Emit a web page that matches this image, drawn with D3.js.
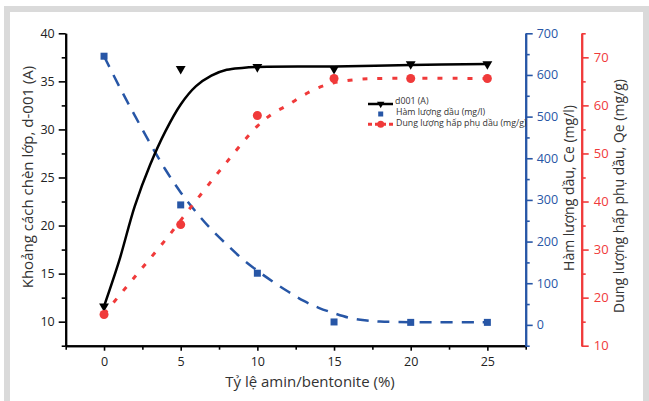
<!DOCTYPE html>
<html>
<head>
<meta charset="utf-8">
<script src="https://cdn.jsdelivr.net/npm/d3@7"></script>
<style>
  body { margin: 0; background: #fff; }
  svg text { font-family: "Open Sans", "Noto Sans", sans-serif; }
</style>
</head>
<body>
<div id="chart"></div>
<script>
var ratio = [0, 5, 10, 15, 20, 25];
var d001 = [11.6, 36.3, 36.5, 36.3, 36.8, 36.8];
var ceVals = [645, 288, 124, 7, 6, 6];
var qeVals = [16.5, 35.2, 57.9, 65.6, 65.6, 65.6];

// fitted curves as drawn in the picture
var d001FitX = [0, 1, 2, 3, 4, 5, 6, 7, 8, 9, 10, 15, 20, 25];
var d001Fit = [11.6, 16.4, 22.0, 26.3, 29.8, 32.6, 34.5, 35.6, 36.2, 36.4, 36.5, 36.55, 36.7, 36.8];
var ceFitX = [0, 1, 2, 3, 4, 5, 6, 7, 8, 9, 10, 11, 12, 13, 14, 15, 16, 17, 18, 20, 25];
var ceFit = [645, 572, 503, 436, 373, 318, 271, 229, 193, 159, 130, 104, 80, 58, 41, 28, 17, 11, 8, 6.5, 6];
var qeFitX = [0, 2, 4, 6, 8, 10, 11, 12, 13, 14, 15, 16.5, 18, 25];
var qeFit = [16.6, 24.3, 32, 40.2, 48.2, 55.7, 58.3, 60.1, 62.1, 63.7, 64.7, 65.4, 65.6, 65.6];

var xTicks = [0, 5, 10, 15, 20, 25];
var leftTicks = [10, 15, 20, 25, 30, 35, 40];
var blueTicks = [0, 100, 200, 300, 400, 500, 600, 700];
var redTicks = [10, 20, 30, 40, 50, 60, 70];
var legendLabels = ["d001 (A)", "Hàm lượng dầu (mg/l)", "Dung lượng hấp phụ dầu (mg/g)"];

var svgWidth = 649, svgHeight = 401;
var black = "#000", blue = "#2756a6", red = "#f03a3a", textCol = "#333";

var svg = d3.select("#chart").append("svg")
  .attr("width", svgWidth)
  .attr("height", svgHeight);

// grey frame
svg.append("rect")
  .attr("x", 7).attr("y", 9)
  .attr("width", 639).attr("height", 402)
  .attr("fill", "#fff")
  .attr("stroke", "#dadada")
  .attr("stroke-width", 6);

var plotTop = 33.3, plotBottom = 345.7, plotLeft = 65.7, plotRight = 525.7, redX = 581.7;

var x = d3.scaleLinear().domain([-2.5, 27.5]).range([plotLeft, plotRight]);
var yL = d3.scaleLinear().domain([7.5, 40]).range([plotBottom, plotTop]);
var yB = d3.scaleLinear().domain([-50, 700]).range([plotBottom, plotTop]);
var yR = d3.scaleLinear().domain([10, 75]).range([plotBottom, plotTop]);

function minorVals(start, stop, step) {
  return d3.range(start, stop + step / 2, step);
}

function styleAxis(g, color, size) {
  g.selectAll("path").attr("stroke", color).attr("stroke-width", 2);
  g.selectAll("line").attr("stroke", color).attr("stroke-width", 1.6);
  g.selectAll("text").attr("fill", color).attr("font-size", size || 12.5);
}

// x axis
var xMinor = svg.append("g").attr("transform", `translate(0,${plotBottom})`)
  .call(d3.axisBottom(x).tickValues(minorVals(-2.5, 27.5, 5)).tickSize(4).tickSizeOuter(0).tickFormat(""));
styleAxis(xMinor, black);
var xAxis = svg.append("g").attr("transform", `translate(0,${plotBottom})`)
  .call(d3.axisBottom(x).tickValues(xTicks).tickSize(5).tickSizeOuter(0).tickPadding(6));
styleAxis(xAxis, "#222");
xAxis.selectAll("line, path").attr("stroke", black);

// left axis
var lMinor = svg.append("g").attr("transform", `translate(${plotLeft},0)`)
  .call(d3.axisLeft(yL).tickValues(minorVals(7.5, 37.5, 5)).tickSize(4).tickSizeOuter(0).tickFormat(""));
styleAxis(lMinor, black);
var lAxis = svg.append("g").attr("transform", `translate(${plotLeft},0)`)
  .call(d3.axisLeft(yL).tickValues(leftTicks).tickSize(7).tickSizeOuter(0).tickPadding(4));
styleAxis(lAxis, "#222");
lAxis.selectAll("line, path").attr("stroke", black);

// blue axis
var bMinor = svg.append("g").attr("transform", `translate(${plotRight},0)`)
  .call(d3.axisRight(yB).tickValues(minorVals(-50, 650, 100)).tickSize(4).tickSizeOuter(0).tickFormat(""));
styleAxis(bMinor, blue);
var bAxis = svg.append("g").attr("transform", `translate(${plotRight},0)`)
  .call(d3.axisRight(yB).tickValues(blueTicks).tickSize(7).tickSizeOuter(0).tickPadding(4));
styleAxis(bAxis, blue);

// red axis
var rMinor = svg.append("g").attr("transform", `translate(${redX},0)`)
  .call(d3.axisRight(yR).tickValues(minorVals(15, 75, 10)).tickSize(4).tickSizeOuter(0).tickFormat(""));
styleAxis(rMinor, red);
var rAxis = svg.append("g").attr("transform", `translate(${redX},0)`)
  .call(d3.axisRight(yR).tickValues(redTicks).tickSize(7).tickSizeOuter(0).tickPadding(5));
styleAxis(rAxis, red, 13);

// axis titles
svg.append("text")
  .attr("transform", "translate(32.5,177) rotate(-90)")
  .attr("text-anchor", "middle")
  .attr("font-size", 15).attr("fill", textCol)
  .text("Khoảng cách chèn lớp, d-001 (A)");
svg.append("text")
  .attr("transform", "translate(574,188) rotate(-90)")
  .attr("text-anchor", "middle")
  .attr("font-size", 14).attr("fill", textCol)
  .text("Hàm lượng dầu, Ce (mg/l)");
svg.append("text")
  .attr("transform", "translate(624,196) rotate(-90)")
  .attr("text-anchor", "middle")
  .attr("font-size", 14).attr("fill", textCol)
  .text("Dung lượng hấp phụ dầu, Qe (mg/g)");
svg.append("text")
  .attr("x", 310).attr("y", 387)
  .attr("text-anchor", "middle")
  .attr("font-size", 15).attr("fill", textCol)
  .text("Tỷ lệ amin/bentonite (%)");

// fitted lines
var smooth = d3.curveCatmullRom.alpha(0.5);
var blueLine = d3.line().x((d, i) => x(ceFitX[i])).y(d => yB(d)).curve(smooth);
svg.append("path").datum(ceFit)
  .attr("d", blueLine)
  .attr("fill", "none").attr("stroke", blue)
  .attr("stroke-width", 2.5).attr("stroke-dasharray", "12,9");

var redLine = d3.line().x((d, i) => x(qeFitX[i])).y(d => yR(d)).curve(smooth);
svg.append("path").datum(qeFit)
  .attr("d", redLine)
  .attr("fill", "none").attr("stroke", red)
  .attr("stroke-width", 3).attr("stroke-dasharray", "5,10");

var blackLine = d3.line().x((d, i) => x(d001FitX[i])).y(d => yL(d)).curve(smooth);
svg.append("path").datum(d001Fit)
  .attr("d", blackLine)
  .attr("fill", "none").attr("stroke", black)
  .attr("stroke-width", 2.5);

// markers
var tri = d3.symbol().type(d3.symbolTriangle).size(42);
svg.selectAll(".tri").data(d001).enter().append("path")
  .attr("class", "tri")
  .attr("d", tri)
  .attr("transform", (d, i) => `translate(${x(ratio[i])},${yL(d)}) rotate(180)`)
  .attr("fill", black);

svg.selectAll(".sq").data(ceVals).enter().append("rect")
  .attr("class", "sq")
  .attr("x", (d, i) => x(ratio[i]) - 3.5)
  .attr("y", d => yB(d) - 3.5)
  .attr("width", 7).attr("height", 7)
  .attr("fill", blue);

svg.selectAll(".dot").data(qeVals).enter().append("circle")
  .attr("class", "dot")
  .attr("cx", (d, i) => x(ratio[i]))
  .attr("cy", d => yR(d))
  .attr("r", 4.5)
  .attr("fill", red);

// legend
var lg = svg.append("g").attr("transform", "translate(368,104)");
lg.append("line").attr("x1", 0).attr("x2", 25).attr("y1", 0).attr("y2", 0)
  .attr("stroke", black).attr("stroke-width", 2.5);
lg.append("path").attr("d", d3.symbol().type(d3.symbolTriangle).size(24))
  .attr("transform", "translate(12.7,0) rotate(180)").attr("fill", black);
lg.append("rect").attr("x", 10.2).attr("y", 7.5).attr("width", 5).attr("height", 5).attr("fill", blue);
lg.append("line").attr("x1", 0).attr("x2", 25).attr("y1", 20.3).attr("y2", 20.3)
  .attr("stroke", red).attr("stroke-width", 3).attr("stroke-dasharray", "4,3");
lg.append("circle").attr("cx", 12.7).attr("cy", 20.3).attr("r", 3.5).attr("fill", red);
lg.selectAll(".lgtext").data(legendLabels).enter().append("text")
  .attr("x", (d, i) => i === 0 ? 27 : 28)
  .attr("y", (d, i) => -3 + i * 11.2)
  .attr("dy", "0.35em")
  .attr("font-size", 8.8).attr("fill", textCol)
  .text(d => d);
</script>
</body>
</html>
